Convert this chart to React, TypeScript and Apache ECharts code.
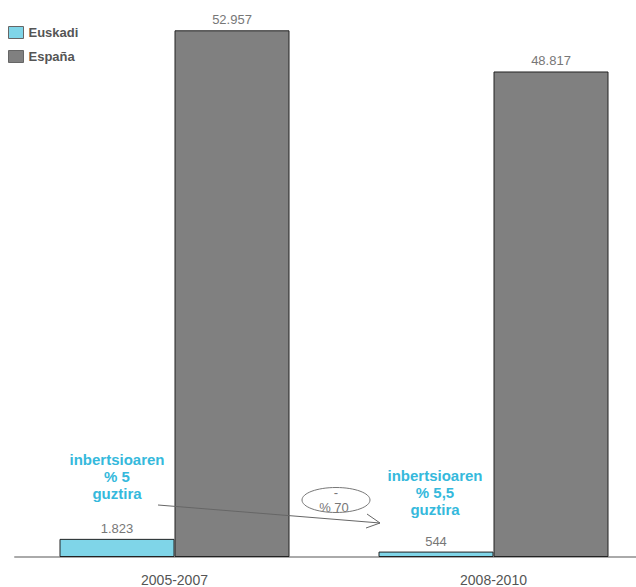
import React, { useEffect, useRef } from "react";
import * as echarts from "echarts";

const categories = ["2005-2007", "2008-2010"];
const euskadi = [1823, 544];
const espana = [52957, 48817];
const seriesNames = ["Euskadi", "España"];
const noteLeft = "inbertsioaren\n% 5\nguztira";
const noteRight = "inbertsioaren\n% 5,5\nguztira";
const changeLabel = ["-", "% 70"];

const fmt = (v: number) => v.toString().replace(/\B(?=(\d{3})+(?!\d))/g, ".");
const FF = "Liberation Sans, Arial, sans-serif";

export default function App() {
  const ref = useRef<HTMLDivElement>(null);
  useEffect(() => {
    const chart = echarts.init(ref.current!, null, { renderer: "svg" });
    const labelStyle = {
      show: true,
      position: "top" as const,
      distance: 4,
      color: "#777",
      fontSize: 13,
      fontFamily: FF,
      formatter: (p: any) => fmt(p.value),
    };
    chart.setOption({
      animation: false,
      textStyle: { fontFamily: FF },
      legend: {
        orient: "vertical",
        left: 8,
        top: 26,
        padding: 0,
        icon: "rect",
        itemWidth: 15,
        itemHeight: 12,
        itemGap: 11,
        itemStyle: { borderColor: "#666", borderWidth: 1 },
        textStyle: { color: "#555", fontSize: 13, fontWeight: "bold" },
        data: seriesNames,
      },
      grid: {
        left: 15,
        width: 638,
        top: 10,
        bottom: 30,
        containLabel: false,
        outerBoundsMode: "none",
      },
      xAxis: {
        type: "category",
        data: categories,
        axisLine: { lineStyle: { color: "#aaa", width: 2 } },
        axisTick: { show: false },
        axisLabel: { color: "#555", fontSize: 14, margin: 16 },
      },
      yAxis: { type: "value", min: 0, max: 55000, show: false, splitLine: { show: false } },
      series: [
        {
          name: seriesNames[0],
          type: "bar",
          data: euskadi,
          barWidth: 115,
          barGap: "0%",
          itemStyle: { color: "#7fd5e8", borderColor: "#222", borderWidth: 1 },
          label: labelStyle,
        },
        {
          name: seriesNames[1],
          type: "bar",
          data: espana,
          barWidth: 115,
          itemStyle: { color: "#808080", borderColor: "#222", borderWidth: 1 },
          label: labelStyle,
        },
      ],
      graphic: [
        {
          type: "text",
          x: 117,
          y: 451,
          z: 100,
          style: {
            text: noteLeft,
            fill: "#35b9dc",
            font: "bold 15px " + FF,
            align: "center",
            lineHeight: 17,
          },
        },
        {
          type: "text",
          x: 435,
          y: 467,
          z: 100,
          style: {
            text: noteRight,
            fill: "#35b9dc",
            font: "bold 15px " + FF,
            align: "center",
            lineHeight: 17,
          },
        },
        {
          type: "line",
          z: 100,
          shape: { x1: 158, y1: 505, x2: 380, y2: 523 },
          style: { stroke: "#666", lineWidth: 1 },
        },
        {
          type: "polyline",
          z: 100,
          shape: { points: [[367, 514], [380, 523], [366, 528]] },
          style: { stroke: "#666", lineWidth: 1, fill: null },
        },
        {
          type: "ellipse",
          z: 100,
          shape: { cx: 336, cy: 500, rx: 34, ry: 12.5 },
          style: { stroke: "#777", lineWidth: 1, fill: "rgba(255,255,255,0)" },
        },
        {
          type: "text",
          x: 336,
          y: 486,
          z: 101,
          style: {
            text: changeLabel[0],
            fill: "#777",
            font: "13px " + FF,
            align: "center",
          },
        },
        {
          type: "text",
          x: 334,
          y: 501,
          z: 101,
          style: {
            text: changeLabel[1],
            fill: "#777",
            font: "13px " + FF,
            align: "center",
          },
        },
      ],
    });
    return () => chart.dispose();
  }, []);
  return (
    <div
      ref={ref}
      style={{ position: "fixed", left: 0, top: 0, width: 636, height: 587, background: "#fff" }}
    />
  );
}
